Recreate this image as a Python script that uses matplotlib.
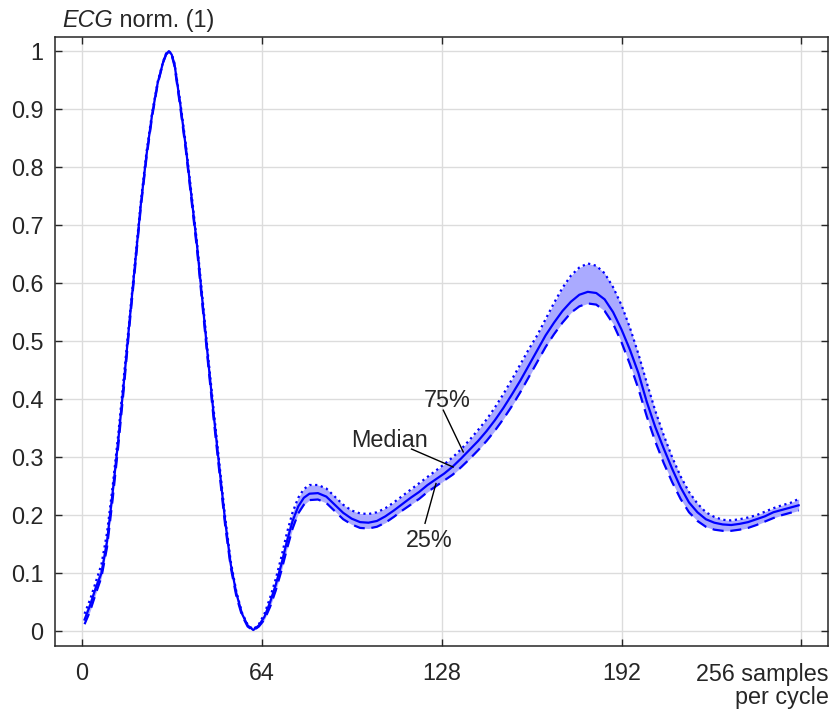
import numpy as np
import matplotlib.pyplot as plt

plt.rcParams['font.family'] = ['Liberation Sans', 'DejaVu Sans']

# sample positions within one cycle
samples = [1, 3, 5, 7, 9, 11, 13, 15, 17, 19, 21, 23, 25, 27, 29, 30, 31, 32, 33, 35, 37, 39,
           41, 43, 45, 47, 49, 51, 53, 55, 57, 59, 61, 63, 65, 67, 69, 71, 73, 75, 77, 79,
           81, 84, 87, 90, 93, 96, 99, 102, 105, 108, 111, 114, 117, 120, 123, 126, 129,
           132, 135, 138, 141, 144, 147, 150, 153, 156, 159, 162, 165, 168, 171, 174, 177,
           180, 183, 186, 189, 192, 195, 198, 201, 204, 207, 210, 213, 216, 219, 222, 225,
           228, 231, 234, 237, 240, 243, 246, 249, 252, 255]

ecg_median = [0.02, 0.045, 0.075, 0.10, 0.155, 0.24, 0.33, 0.43, 0.535, 0.635,
              0.735, 0.82, 0.89, 0.945, 0.982, 0.995, 1.0, 0.994, 0.977, 0.91, 0.835, 0.75,
              0.665, 0.565, 0.465, 0.37, 0.28, 0.19, 0.115, 0.065, 0.03, 0.01,
              0.002, 0.01, 0.025, 0.05, 0.08, 0.115, 0.155, 0.19, 0.215, 0.23,
              0.237, 0.238, 0.232, 0.218, 0.204, 0.194, 0.188, 0.187, 0.19, 0.198,
              0.208, 0.219, 0.23, 0.24, 0.252, 0.262, 0.272, 0.284, 0.298, 0.313,
              0.328, 0.345, 0.364, 0.385, 0.408, 0.432, 0.458, 0.484, 0.51, 0.532,
              0.552, 0.568, 0.58, 0.585, 0.583, 0.572, 0.55, 0.52, 0.485, 0.445,
              0.395, 0.352, 0.315, 0.28, 0.248, 0.222, 0.205, 0.193, 0.187, 0.184,
              0.183, 0.185, 0.188, 0.193, 0.198, 0.205, 0.209, 0.213, 0.217]

ecg_q75 = [0.03, 0.055, 0.085, 0.115, 0.17, 0.25, 0.34, 0.44, 0.54, 0.64,
           0.74, 0.825, 0.893, 0.947, 0.983, 0.996, 1.0, 0.995, 0.979, 0.914, 0.84, 0.756,
           0.67, 0.572, 0.472, 0.378, 0.287, 0.197, 0.12, 0.068, 0.032, 0.011,
           0.003, 0.012, 0.03, 0.058, 0.09, 0.128, 0.17, 0.205, 0.23, 0.245,
           0.252, 0.252, 0.246, 0.232, 0.218, 0.208, 0.203, 0.202, 0.205, 0.212,
           0.222, 0.233, 0.244, 0.255, 0.266, 0.277, 0.288, 0.30, 0.314, 0.33,
           0.347, 0.365, 0.386, 0.409, 0.434, 0.46, 0.486, 0.51, 0.538, 0.566,
           0.592, 0.613, 0.627, 0.634, 0.63, 0.617, 0.593, 0.562, 0.523, 0.478,
           0.428, 0.38, 0.338, 0.30, 0.267, 0.24, 0.22, 0.205, 0.197, 0.192,
           0.191, 0.193, 0.196, 0.20, 0.206, 0.212, 0.217, 0.221, 0.228]

ecg_q25 = [0.012, 0.035, 0.065, 0.093, 0.145, 0.228, 0.32, 0.42, 0.528, 0.628,
           0.73, 0.815, 0.886, 0.943, 0.981, 0.994, 0.999, 0.993, 0.974, 0.905, 0.83, 0.744,
           0.658, 0.558, 0.458, 0.362, 0.272, 0.183, 0.11, 0.06, 0.027, 0.008,
           0.001, 0.008, 0.02, 0.042, 0.07, 0.104, 0.142, 0.177, 0.203, 0.218,
           0.226, 0.227, 0.221, 0.207, 0.193, 0.184, 0.178, 0.177, 0.18, 0.187,
           0.197, 0.208, 0.218, 0.228, 0.24, 0.25, 0.26, 0.27, 0.283, 0.297,
           0.312, 0.328, 0.346, 0.366, 0.388, 0.412, 0.438, 0.464, 0.49, 0.512,
           0.532, 0.549, 0.56, 0.565, 0.563, 0.552, 0.53, 0.498, 0.46, 0.418,
           0.37, 0.327, 0.29, 0.257, 0.228, 0.205, 0.19, 0.18, 0.175, 0.173,
           0.173, 0.175, 0.178, 0.183, 0.189, 0.195, 0.20, 0.204, 0.208]

x_ticks = [0, 64, 128, 192, 256]
x_ticklabels = ['0', '64', '128', '192', '']
y_ticks = [0, 0.1, 0.2, 0.3, 0.4, 0.5, 0.6, 0.7, 0.8, 0.9, 1]
y_ticklabels = ['0', '0.1', '0.2', '0.3', '0.4', '0.5', '0.6', '0.7', '0.8', '0.9', '1']

# callout labels: text position and leader line (start -> point on curve)
callout_text = ['75%', 'Median', '25%']
callout_xy = [(130.1, 0.398), (109.3, 0.329), (123.5, 0.157)]
callout_from = [(128.6, 0.381), (117.3, 0.314), (122.1, 0.186)]
callout_to = [(135.7, 0.309), (132.1, 0.283), (126.0, 0.2545)]

FS = 16.8
TXT = '#262626'

fig = plt.figure(figsize=(8.34, 7.14), dpi=100)
ax = fig.add_axes([0.066, 0.0957, 0.927, 0.853])

ax.fill_between(samples, ecg_q25, ecg_q75, color='#aaaaff', lw=0, zorder=2)
ax.plot(samples, ecg_q75, color='blue', lw=1.6, ls=(0, (1, 1.6)), zorder=3)
ax.plot(samples, ecg_q25, color='blue', lw=1.6, ls=(0, (5, 3)), zorder=3)
ax.plot(samples, ecg_median, color='blue', lw=1.6, zorder=4)

ax.set_xlim(-9.5, 265.5)
ax.set_ylim(-0.025, 1.025)
ax.set_xticks(x_ticks)
ax.set_xticklabels(x_ticklabels)
ax.set_yticks(y_ticks)
ax.set_yticklabels(y_ticklabels)
ax.grid(True, color='#dcdcdc', lw=1.0, zorder=0)
ax.set_axisbelow(True)
ax.tick_params(direction='in', length=5, width=1.0, colors=TXT, labelsize=FS,
               top=True, right=True, labelcolor=TXT)
ax.tick_params(axis='x', pad=12)
ax.tick_params(axis='y', pad=8.5)
for s in ax.spines.values():
    s.set_color(TXT)
    s.set_linewidth(1.1)

# axis captions
t1 = fig.text(0.0743, 0.9626, 'ECG', fontsize=FS, style='italic', color=TXT, va='baseline')
ax.annotate(' norm. (1)', xy=(1, 0), xycoords=t1, fontsize=FS, color=TXT, va='bottom')
fig.text(0.994, 0.072, '256 samples\nper cycle', fontsize=FS, color=TXT,
         ha='right', va='top', linespacing=1.0)

# callouts
for label, pos, p0, p1 in zip(callout_text, callout_xy, callout_from, callout_to):
    ax.text(pos[0], pos[1], label, fontsize=FS, color=TXT, ha='center', va='center', zorder=5)
    ax.plot([p0[0], p1[0]], [p0[1], p1[1]], color='black', lw=1.0, zorder=5)

fig.savefig('out.png', dpi=100)
